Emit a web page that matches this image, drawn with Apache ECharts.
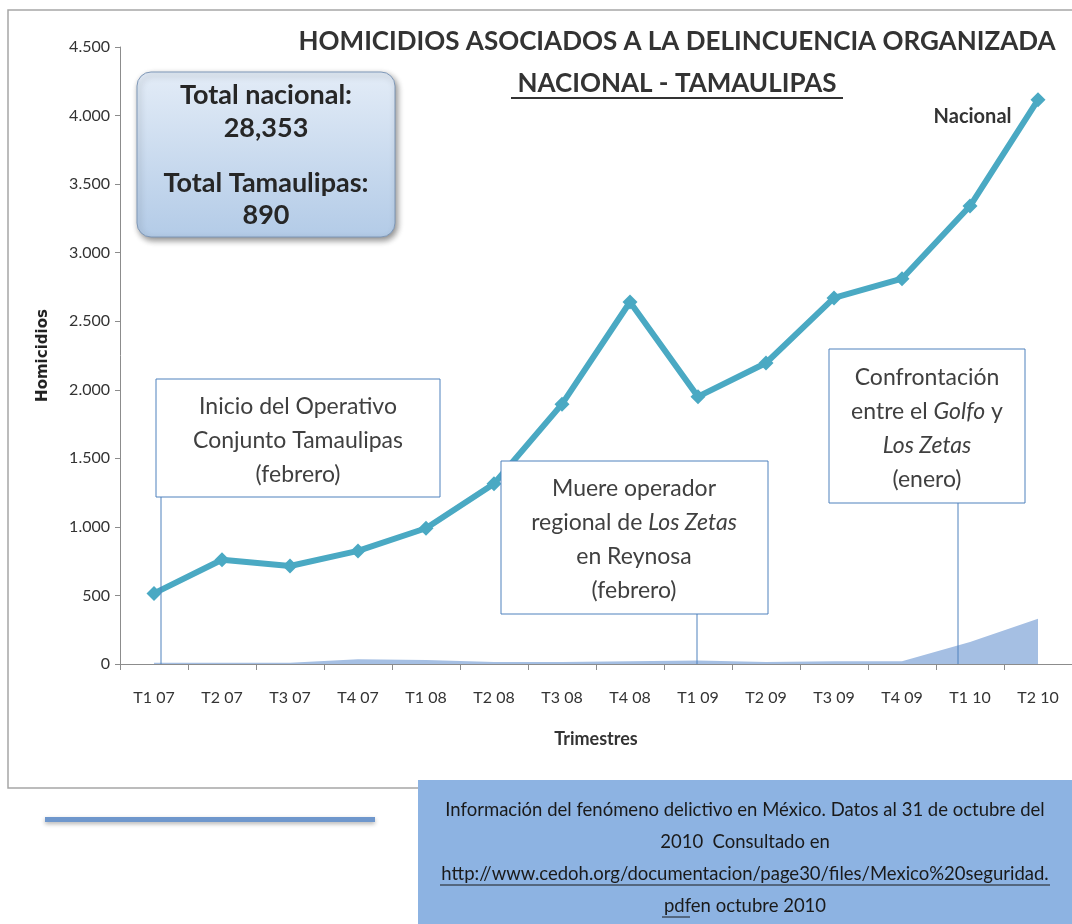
<!DOCTYPE html>
<html>
<head>
<meta charset="utf-8">
<script src="https://cdn.jsdelivr.net/npm/echarts@6/dist/echarts.min.js"></script>
<style>
  html, body { margin: 0; padding: 0; background: #fff; }
  #chart { width: 1072px; height: 924px; }
</style>
</head>
<body>
<div id="chart"></div>
<script>
// quarters and homicide counts
const quarters = ['T1 07', 'T2 07', 'T3 07', 'T4 07', 'T1 08', 'T2 08', 'T3 08', 'T4 08',
  'T1 09', 'T2 09', 'T3 09', 'T4 09', 'T1 10', 'T2 10'];
const nacional = [515, 760, 715, 825, 990, 1315, 1895, 2640, 1950, 2195, 2670, 2810, 3340, 4115];
const tamaulipas = [10, 10, 10, 35, 30, 15, 15, 20, 25, 15, 20, 20, 160, 330];
const yTicks = { min: 0, max: 4500, interval: 500 };

const FONT = 'Lato, "Open Sans", sans-serif';
const TXT = '#333333';
const BOX_BORDER = '#4f81bd';

const chart = echarts.init(document.getElementById('chart'));

const boxText = (lines) => ({
  text: lines.join('\n'),
  fill: '#404040',
  font: '23px ' + FONT,
  lineHeight: 34,
  align: 'center',
  verticalAlign: 'middle',
  rich: {
    i: { fontStyle: 'italic', fontSize: 23, fontFamily: FONT, fill: '#404040' }
  }
});

const bold = (x, y, text, size) => ({
  type: 'text', x, y, z: 11,
  style: { text, fill: '#262626', font: 'bold ' + size + 'px ' + FONT, align: 'center', verticalAlign: 'middle' }
});

const option = {
  animation: false,
  textStyle: { fontFamily: FONT },
  grid: { left: 120, right: 0, top: 47, bottom: 260 },
  xAxis: {
    type: 'category',
    data: quarters,
    boundaryGap: true,
    axisLine: { lineStyle: { color: '#8c8c8c', width: 1 } },
    axisTick: { show: true, interval: 0, length: 6, lineStyle: { color: '#8c8c8c' } },
    axisLabel: { color: TXT, fontSize: 16, margin: 26, interval: 0 },
    name: 'Trimestres',
    nameLocation: 'middle',
    nameGap: 66,
    nameTextStyle: { color: TXT, fontSize: 18, fontWeight: 'bold' }
  },
  yAxis: {
    type: 'value',
    min: yTicks.min,
    max: yTicks.max,
    interval: yTicks.interval,
    axisLine: { show: true, lineStyle: { color: '#8c8c8c', width: 1 } },
    axisTick: { show: true, length: 5, lineStyle: { color: '#8c8c8c' } },
    splitLine: { show: false },
    axisLabel: {
      color: TXT,
      fontSize: 16,
      margin: 10,
      formatter: (v) => v >= 1000 ? Math.floor(v / 1000) + '.' + String(v % 1000).padStart(3, '0') : String(v)
    },
    name: 'Homicidios',
    nameLocation: 'middle',
    nameGap: 69,
    nameRotate: 90,
    nameTextStyle: { color: '#222', fontSize: 15, fontWeight: 'bold', fontFamily: '"DejaVu Sans", sans-serif' }
  },
  series: [
    {
      name: 'Tamaulipas',
      type: 'line',
      data: tamaulipas,
      symbol: 'none',
      lineStyle: { width: 0 },
      areaStyle: { color: '#a5bfe3', opacity: 1 },
      z: 1
    },
    {
      name: 'Nacional',
      type: 'line',
      data: nacional.map((v, i) => i === nacional.length - 1
        ? {
            value: v,
            label: {
              show: true,
              formatter: 'Nacional',
              position: 'left',
              offset: [-14, 17],
              color: '#333',
              fontSize: 20,
              fontWeight: 'bold',
              fontFamily: FONT
            }
          }
        : v),
      symbol: 'diamond',
      symbolSize: 15,
      itemStyle: { color: '#4aa9c3' },
      lineStyle: { color: '#4aa9c3', width: 6 },
      z: 3
    }
  ],
  graphic: [
    // outer frame
    { type: 'rect', shape: { x: 8, y: 10, width: 1080, height: 778 },
      style: { fill: 'none', stroke: '#a6a6a6', lineWidth: 1.5 }, z: 0 },
    // titles
    { type: 'text', x: 677, y: 42,
      style: { text: 'HOMICIDIOS ASOCIADOS A LA DELINCUENCIA ORGANIZADA', fill: '#333',
        font: 'bold 26px ' + FONT, align: 'center', verticalAlign: 'middle' } },
    { type: 'text', x: 677, y: 84,
      style: { text: 'NACIONAL - TAMAULIPAS', fill: '#333',
        font: 'bold 26px ' + FONT, align: 'center', verticalAlign: 'middle' } },
    { type: 'line', shape: { x1: 511, y1: 98, x2: 843, y2: 98 },
      style: { stroke: '#333', lineWidth: 2 } },
    // totals box
    { type: 'rect', shape: { x: 137, y: 72, width: 258, height: 165, r: 14 },
      style: {
        fill: new echarts.graphic.LinearGradient(0, 0, 0, 1, [
          { offset: 0, color: '#e3ecf7' }, { offset: 1, color: '#b3cbe7' }
        ]),
        stroke: '#7f98b8', lineWidth: 1,
        shadowBlur: 6, shadowOffsetX: 2, shadowOffsetY: 3, shadowColor: 'rgba(0,0,0,0.45)'
      }, z: 10 },
    bold(266, 95, 'Total nacional:', 27),
    bold(266, 128, '28,353', 27),
    bold(266, 183, 'Total Tamaulipas:', 27),
    bold(266, 215, '890', 27),
    // annotation 1
    { type: 'line', shape: { x1: 161, y1: 497, x2: 161, y2: 664 },
      style: { stroke: BOX_BORDER, lineWidth: 1 }, z: 5 },
    { type: 'rect', shape: { x: 156, y: 379, width: 284, height: 118 },
      style: { fill: '#fff', stroke: BOX_BORDER, lineWidth: 1 }, z: 6 },
    { type: 'text', x: 298, y: 441, z: 7,
      style: boxText(['Inicio del Operativo', 'Conjunto Tamaulipas', '(febrero)']) },
    // annotation 2
    { type: 'line', shape: { x1: 697, y1: 614, x2: 697, y2: 664 },
      style: { stroke: BOX_BORDER, lineWidth: 1 }, z: 5 },
    { type: 'rect', shape: { x: 501, y: 461, width: 267, height: 153 },
      style: { fill: '#fff', stroke: BOX_BORDER, lineWidth: 1 }, z: 6 },
    { type: 'text', x: 634, y: 540, z: 7,
      style: boxText(['Muere operador', 'regional de {i|Los Zetas}', 'en Reynosa', '(febrero)']) },
    // annotation 3
    { type: 'line', shape: { x1: 958, y1: 503, x2: 958, y2: 664 },
      style: { stroke: BOX_BORDER, lineWidth: 1 }, z: 5 },
    { type: 'rect', shape: { x: 829, y: 349, width: 196, height: 154 },
      style: { fill: '#fff', stroke: BOX_BORDER, lineWidth: 1 }, z: 6 },
    { type: 'text', x: 927, y: 429, z: 7,
      style: boxText(['Confrontación', 'entre el {i|Golfo} y', '{i|Los Zetas}', '(enero)']) },
    // footer line
    { type: 'rect', shape: { x: 45, y: 817, width: 330, height: 5 },
      style: { fill: '#6f97cc', shadowBlur: 4, shadowOffsetY: 2, shadowColor: 'rgba(0,0,0,0.3)' } },
    // source box
    { type: 'rect', shape: { x: 418, y: 780, width: 660, height: 150 },
      style: { fill: '#8db3e2' }, z: 8 },
    { type: 'text', x: 745, y: 858, z: 9,
      style: {
        text: 'Información del fenómeno delictivo en México. Datos al 31 de octubre del\n2010  Consultado en\nhttp://www.cedoh.org/documentacion/page30/files/Mexico%20seguridad.\npdfen octubre 2010',
        fill: '#1a1a1a', font: '18.5px ' + FONT, lineHeight: 32, align: 'center', verticalAlign: 'middle'
      } },
    { type: 'line', shape: { x1: 440, y1: 885, x2: 1050, y2: 885 },
      style: { stroke: '#1a1a1a', lineWidth: 1 }, z: 9 },
    { type: 'line', shape: { x1: 662, y1: 917, x2: 690, y2: 917 },
      style: { stroke: '#1a1a1a', lineWidth: 1 }, z: 9 }
  ]
};

chart.setOption(option);
</script>
</body>
</html>
